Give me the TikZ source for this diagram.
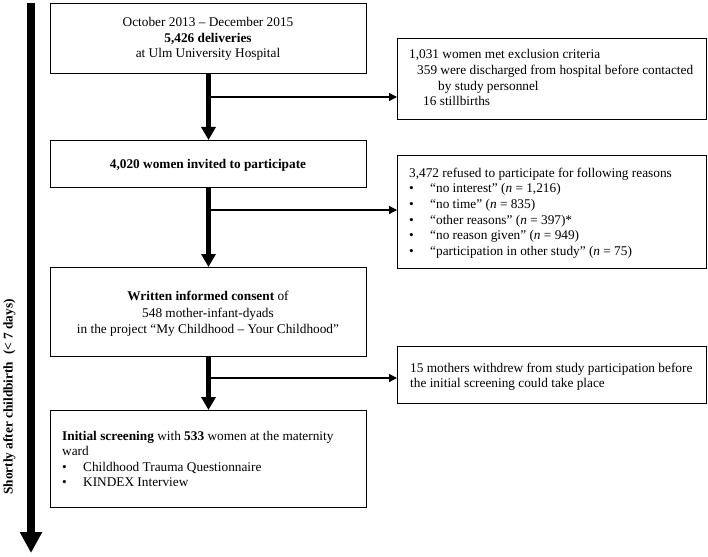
\documentclass[tikz,border=0pt]{standalone}
\usepackage{fontspec}
\setmainfont{Liberation Serif}
\usetikzlibrary{arrows.meta}
\tikzset{
  box/.style={draw, line width=1pt, inner sep=0pt, anchor=north west},
  txt/.style={inner sep=0pt, font=\fontsize{13.3}{15.7}\selectfont},
  tl/.style={txt, anchor=base west},
  tc/.style={txt, anchor=base},
  mainarrow/.style={line width=5pt, -{Triangle[length=13pt,width=14pt]}},
  branch/.style={line width=1.2pt, -{Triangle[length=8pt,width=8pt]}},
  timearrow/.style={line width=8pt, -{Triangle[length=21pt,width=21pt]}}
}
\newcommand{\bul}{\makebox[21pt][l]{\textbullet}}
\begin{document}
\begin{tikzpicture}[x=1pt,y=-1pt]
\useasboundingbox (0,0) rectangle (708,556);
% main boxes
\node[box, minimum width=316pt, minimum height=70pt] (b1) at (50,3) {};
\node[box, minimum width=316pt, minimum height=47pt] (b2) at (50,140) {};
\node[box, minimum width=316pt, minimum height=89pt] (b3) at (50,267) {};
\node[box, minimum width=316pt, minimum height=97pt] (b4) at (50,410) {};
% side boxes
\node[box, minimum width=309pt, minimum height=81pt] (r1) at (397,38) {};
\node[box, minimum width=309pt, minimum height=113pt] (r2) at (397,155) {};
\node[box, minimum width=309pt, minimum height=57pt] (r3) at (397,346) {};
% main arrows
\draw[mainarrow] (b1.south) -- (b2.north);
\draw[mainarrow] (b2.south) -- (b3.north);
\draw[mainarrow] (b3.south) -- (b4.north);
% branches
\coordinate (j1) at (208,97);
\coordinate (j2) at (208,210);
\coordinate (j3) at (208,378);
\draw[branch] (j1) -- (j1 -| r1.west);
\draw[branch] (j2) -- (j2 -| r2.west);
\draw[branch] (j3) -- (j3 -| r3.west);
% time arrow
\coordinate (ts) at (31,3);
\coordinate (te) at (31,553);
\draw[timearrow] (ts) -- (te);
\node[txt, rotate=90, font=\fontsize{13.3}{15.7}\selectfont\bfseries] (lab) at (9.5,397) {Shortly after childbirth\ \ (< 7 days)};
% box 1 text
\node[tc] (t1a) at (208,27) {October 2013 -- December 2015};
\node[tc] (t1b) at (208,42.5) {\textbf{5,426 deliveries}};
\node[tc] (t1c) at (208,58) {at Ulm University Hospital};
% box 2 text
\node[tc] (t2a) at (208,168) {\textbf{4,020 women invited to participate}};
% box 3 text
\node[tc] (t3a) at (208,300.5) {\textbf{Written informed consent} of};
\node[tc] (t3b) at (208,317) {548 mother-infant-dyads};
\node[tc] (t3c) at (208,333.5) {in the project ``My Childhood -- Your Childhood''};
% box 4 text
\node[tl] (t4a) at (62,440) {\textbf{Initial screening} with \textbf{533} women at the maternity};
\node[tl] (t4b) at (62,455.5) {ward};
\node[tl] (t4c) at (62,471) {\bul Childhood Trauma Questionnaire};
\node[tl] (t4d) at (62,486.7) {\bul KINDEX Interview};
% r1 text
\node[tl] (s1a) at (409,59) {1,031 women met exclusion criteria};
\node[tl] (s1b) at (417,75) {359 were discharged from hospital before contacted};
\node[tl] (s1c) at (438,90.5) {by study personnel};
\node[tl] (s1d) at (423,106) {16 stillbirths};
% r2 text
\node[tl] (s2a) at (409,177) {3,472 refused to participate for following reasons};
\node[tl] (s2b) at (409,192.5) {\bul ``no interest'' (\textit{n} = 1,216)};
\node[tl] (s2c) at (409,208.2) {\bul ``no time'' (\textit{n} = 835)};
\node[tl] (s2d) at (409,224) {\bul ``other reasons'' (\textit{n} = 397)*};
\node[tl] (s2e) at (409,239.6) {\bul ``no reason given'' (\textit{n} = 949)};
\node[tl] (s2f) at (409,255.3) {\bul ``participation in other study'' (\textit{n} = 75)};
% r3 text
\node[tl] (s3a) at (410,372) {15 mothers withdrew from study participation before};
\node[tl] (s3b) at (410,387) {the initial screening could take place};
\end{tikzpicture}
\end{document}
